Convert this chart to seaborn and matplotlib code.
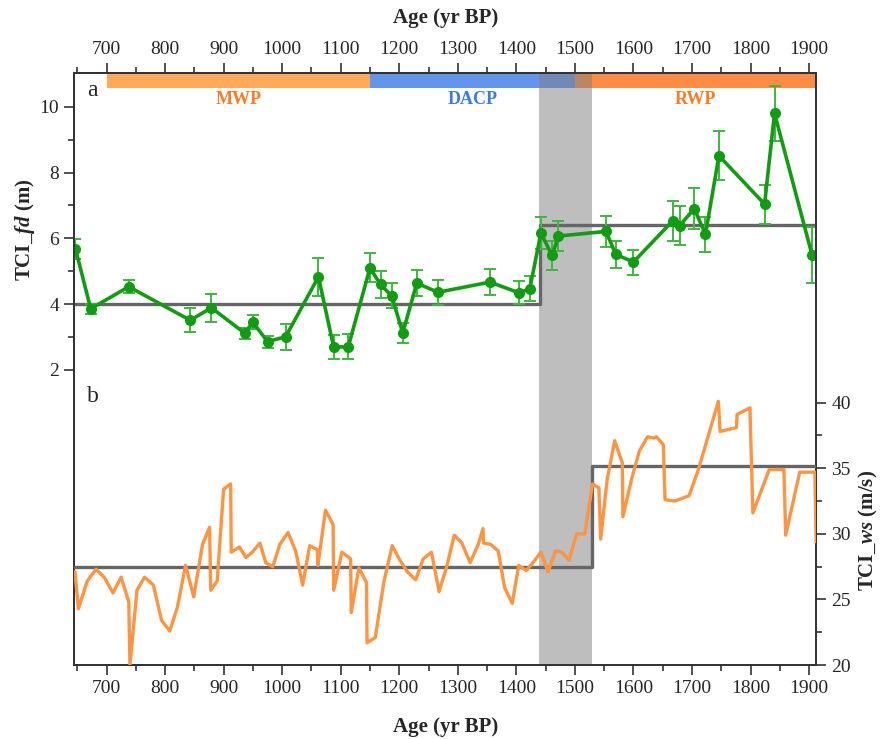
import matplotlib
matplotlib.use('Agg')
import matplotlib.pyplot as plt
import seaborn as sns
import pandas as pd
from matplotlib.ticker import MultipleLocator

# ---- data ----
# TCI_fd (m), panel a
fd_age = [647, 673, 738, 843, 879, 936, 950, 975, 1006, 1062, 1088, 1113,
          1150, 1168, 1187, 1206, 1230, 1266, 1355, 1405, 1423, 1442, 1461,
          1472, 1553, 1570, 1600, 1667, 1679, 1704, 1723, 1746, 1824, 1841, 1905]
fd_val = [5.68, 3.86, 4.53, 3.51, 3.89, 3.12, 3.45, 2.86, 3.01, 4.83, 2.69, 2.71,
          5.10, 4.60, 4.25, 3.13, 4.64, 4.36, 4.67, 4.34, 4.47, 6.16, 5.48,
          6.07, 6.21, 5.51, 5.28, 6.53, 6.39, 6.90, 6.12, 8.51, 7.04, 9.80, 5.50]
fd_err = [0.30, 0.15, 0.20, 0.37, 0.43, 0.17, 0.21, 0.18, 0.40, 0.58, 0.37, 0.38,
          0.44, 0.41, 0.38, 0.30, 0.40, 0.38, 0.40, 0.35, 0.38, 0.49, 0.43,
          0.46, 0.46, 0.40, 0.38, 0.60, 0.59, 0.62, 0.54, 0.75, 0.59, 0.84, 0.85]

# TCI_ws (m/s), panel b
ws_age = [646, 652, 667, 682, 696, 711, 725, 738, 740, 752, 765, 780, 794, 808,
          821, 835, 849, 864, 876, 878, 889, 900, 912, 913, 927, 938, 949, 962,
          972, 984, 996, 1010, 1023, 1035, 1047, 1060, 1061, 1074, 1087, 1088,
          1102, 1117, 1118, 1131, 1144, 1145, 1159, 1174, 1188, 1201, 1214, 1228,
          1241, 1255, 1268, 1281, 1294, 1307, 1321, 1335, 1343, 1344, 1356, 1369,
          1380, 1393, 1404, 1417, 1430, 1442, 1454, 1467, 1478, 1490, 1503, 1517,
          1530, 1541, 1544, 1555, 1568, 1581, 1582, 1597, 1610, 1624, 1635, 1639,
          1651, 1654, 1671, 1695, 1711, 1745, 1748, 1776, 1777, 1799, 1804, 1832,
          1857, 1860, 1884, 1910, 1912]
ws_val = [27.1, 24.3, 26.4, 27.3, 26.7, 25.5, 26.7, 24.8, 20.0, 25.7, 26.7, 26.1,
          23.4, 22.6, 24.4, 27.6, 25.2, 29.2, 30.5, 25.7, 26.4, 33.4, 33.8, 28.6,
          29.0, 28.2, 28.6, 29.3, 27.8, 27.5, 29.2, 30.1, 28.7, 26.1, 29.1, 28.8,
          27.6, 31.8, 30.7, 25.7, 28.6, 28.1, 24.0, 27.4, 26.3, 21.7, 22.1, 26.4,
          29.1, 28.0, 27.1, 26.5, 28.1, 28.6, 25.6, 27.5, 29.9, 29.3, 27.8, 29.2,
          30.4, 29.3, 29.2, 28.7, 25.9, 24.7, 27.6, 27.2, 27.9, 28.6, 27.1, 28.7,
          28.6, 28.0, 30.0, 30.0, 33.8, 33.5, 29.6, 34.1, 37.1, 35.4, 31.3, 34.2,
          36.3, 37.4, 37.3, 37.4, 36.8, 32.6, 32.5, 32.9, 34.9, 40.1, 37.8, 38.1,
          39.1, 39.6, 31.6, 34.9, 34.9, 29.9, 34.7, 34.7, 29.4]

# mean levels before / after the shift
step_a_age = [645, 1441, 1912]
step_a_val = [4.0, 6.4, 6.4]
step_b_age = [645, 1530, 1912]
step_b_val = [27.5, 35.2, 35.2]

# climate periods
period_names = ['MWP', 'DACP', 'RWP']
period_start = [700, 1150, 1500]
period_end = [1150, 1500, 1912]
period_fill = ['#FFA95A', '#6495ED', '#FF8C45']
period_text = ['#FF7A22', '#3A7BE0', '#FF7A22']

shade = (1438, 1530)

fd = pd.DataFrame({'age': fd_age, 'val': fd_val, 'err': fd_err})
ws = pd.DataFrame({'age': ws_age, 'val': ws_val})

sns.set_theme(style='ticks')
plt.rcParams['font.family'] = ['Liberation Serif', 'DejaVu Serif']
plt.rcParams['mathtext.fontset'] = 'custom'
plt.rcParams['mathtext.rm'] = 'Liberation Serif:bold'
plt.rcParams['mathtext.it'] = 'Liberation Serif:italic:bold'
plt.rcParams['mathtext.bf'] = 'Liberation Serif:bold'

fig = plt.figure(figsize=(8.89, 7.39), dpi=100)
ax = fig.add_axes([0.0836, 0.100, 0.8344, 0.801])
ax2 = ax.twinx()

ax.set_ylim(-6.97, 11.02)
ax2.set_ylim(20, 65.1)

# period band at the top
for name, s, e, fc, tc in zip(period_names, period_start, period_end, period_fill, period_text):
    ax.axvspan(s, e, ymin=0.9757, ymax=1, color=fc, lw=0, zorder=1)
    ax.text((s + e) / 2, 10.23, name, ha='center', va='center', color=tc,
            fontsize=13, fontweight='bold')

ax.axvspan(shade[0], shade[1], color='#7f7f7f', alpha=0.5, lw=0, zorder=2)

# panel a
ax.plot(step_a_age, step_a_val, drawstyle='steps-post', color='#666666', lw=2.4, zorder=3)
ax.errorbar(fd['age'], fd['val'], yerr=fd['err'], fmt='none', ecolor='#3fb63f',
            elinewidth=1.4, capsize=4, capthick=1.4, zorder=4)
sns.lineplot(data=fd, x='age', y='val', ax=ax, color='#119c11', lw=2.6,
             marker='o', markersize=8, markeredgewidth=0, zorder=5, sort=False)

# panel b
ax2.plot(step_b_age, step_b_val, drawstyle='steps-post', color='#666666', lw=2.4, zorder=3)
sns.lineplot(data=ws, x='age', y='val', ax=ax2, color='#FF9442', lw=2.4, zorder=4, sort=False)

# axes, ticks
ax.set_yticks([2, 4, 6, 8, 10])
ax.yaxis.set_minor_locator(plt.FixedLocator([3, 5, 7, 9]))
ax.set_xticks(range(700, 2000, 100))
ax.xaxis.set_minor_locator(MultipleLocator(50))
ax.set_xlim(645, 1912)

ax2.set_yticks([20, 25, 30, 35, 40])
ax2.yaxis.set_minor_locator(plt.FixedLocator([22.5, 27.5, 32.5, 37.5]))

top = ax.secondary_xaxis('top')
top.set_xticks(range(700, 2000, 100))
top.xaxis.set_minor_locator(MultipleLocator(50))

for a in (ax, ax2, top):
    a.tick_params(which='major', direction='out', length=7, width=1.2, color='#333333',
                  labelsize=14, pad=4)
    a.tick_params(which='minor', direction='out', length=4, width=1.2, color='#333333')
for sp in list(ax.spines.values()) + list(ax2.spines.values()):
    sp.set_color('#333333')
    sp.set_linewidth(1.3)
top.spines['top'].set_color('#333333')
top.spines['top'].set_linewidth(1.3)

ax.set_xlabel('Age (yr BP)', fontsize=15, fontweight='bold', labelpad=14)
top.set_xlabel('Age (yr BP)', fontsize=15, fontweight='bold', labelpad=13)
ax.set_ylabel(r'TCI_$\mathit{fd}$ (m)', fontsize=15, fontweight='bold')
ax.yaxis.set_label_coords(-0.050, 0.735)
ax2.set_ylabel(r'TCI_$\mathit{ws}$ (m/s)', fontsize=15, fontweight='bold')
ax2.yaxis.set_label_coords(1.055, 0.228)

ax.text(0.0175, 0.989, 'a', transform=ax.transAxes, fontsize=17, va='top', ha='left')
ax.text(0.0175, 0.471, 'b', transform=ax.transAxes, fontsize=17, va='top', ha='left')

fig.savefig('out.png', dpi=100)
